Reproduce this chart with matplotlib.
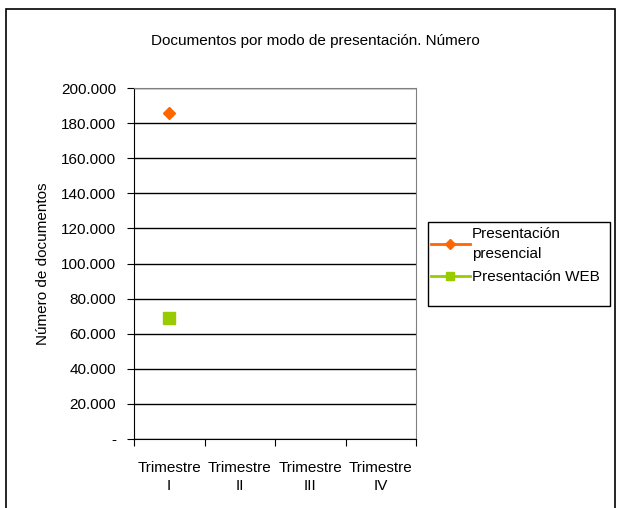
import matplotlib.pyplot as plt
from matplotlib.patches import Rectangle
from matplotlib.ticker import FuncFormatter

plt.rcParams['font.family'] = ['Liberation Sans', 'DejaVu Sans']

# Data
categories = ['Trimestre\nI', 'Trimestre\nII', 'Trimestre\nIII', 'Trimestre\nIV']
presencial = [186000, None, None, None]
web = [69000, None, None, None]
series_names = ['Presentación\npresencial', 'Presentación WEB']

fig = plt.figure(figsize=(6.17, 5.08), dpi=100)

# outer chart border (left, top, right visible)
fig.patches.append(Rectangle((6 / 617, -0.05), (615 - 6) / 617, 1.05 - 9 / 508,
                             transform=fig.transFigure, fill=False,
                             edgecolor='black', linewidth=1.2))

ax = fig.add_axes([134 / 617, 1 - 439 / 508, (416 - 134) / 617, (439 - 88) / 508])

xs = [i + 0.5 for i in range(len(categories))]
p_x = [x for x, v in zip(xs, presencial) if v is not None]
p_y = [v for v in presencial if v is not None]
w_x = [x for x, v in zip(xs, web) if v is not None]
w_y = [v for v in web if v is not None]

ax.plot(p_x, p_y, color='#FF6600', marker='D', markersize=6.5,
        linewidth=2, label=series_names[0], clip_on=False)
ax.plot(w_x, w_y, color='#99CC00', marker='s', markersize=8,
        linewidth=2, label=series_names[1], clip_on=False)

ax.set_xlim(0, len(categories))
ax.set_ylim(0, 200000)
ax.set_yticks(range(0, 200001, 20000))


def fmt(v, pos):
    if v == 0:
        return '-'
    return f'{int(v):,}'.replace(',', '.')


ax.yaxis.set_major_formatter(FuncFormatter(fmt))
ax.yaxis.grid(True, color='black', linewidth=1)
ax.set_axisbelow(True)

ax.set_xticks(range(len(categories) + 1))
ax.set_xticklabels([])
ax.set_xticks(xs, minor=True)
ax.set_xticklabels(categories, minor=True, linespacing=1.45)
ax.tick_params(axis='x', which='minor', length=0, pad=15.5, labelsize=11)
ax.tick_params(axis='x', which='major', length=5, direction='out')
ax.tick_params(axis='y', length=5, direction='out', labelsize=11, pad=8)

for side in ['top', 'right']:
    ax.spines[side].set_color('#808080')
for side in ['left', 'bottom']:
    ax.spines[side].set_color('black')

ax.set_ylabel('Número de documentos', fontsize=11, labelpad=8)

fig.text(315 / 617, 1 - 41 / 508, 'Documentos por modo de presentación. Número',
         ha='center', va='center', fontsize=11)

# legend box drawn separately so it can keep Excel's size
fig.patches.append(Rectangle((428 / 617, 1 - 306 / 508), (610 - 428) / 617, (306 - 222) / 508,
                             transform=fig.transFigure, fill=False,
                             edgecolor='black', linewidth=1))
leg = ax.legend(loc='upper left', bbox_to_anchor=(429 / 617, 1 - 225 / 508),
                bbox_transform=fig.transFigure, frameon=False,
                fontsize=11, handlelength=2.6, markerscale=0.8,
                handletextpad=0.1, borderpad=0.1, labelspacing=0.6,
                borderaxespad=0)
for t in leg.get_texts():
    t.set_linespacing(1.6)

fig.savefig('out.png', dpi=100)
